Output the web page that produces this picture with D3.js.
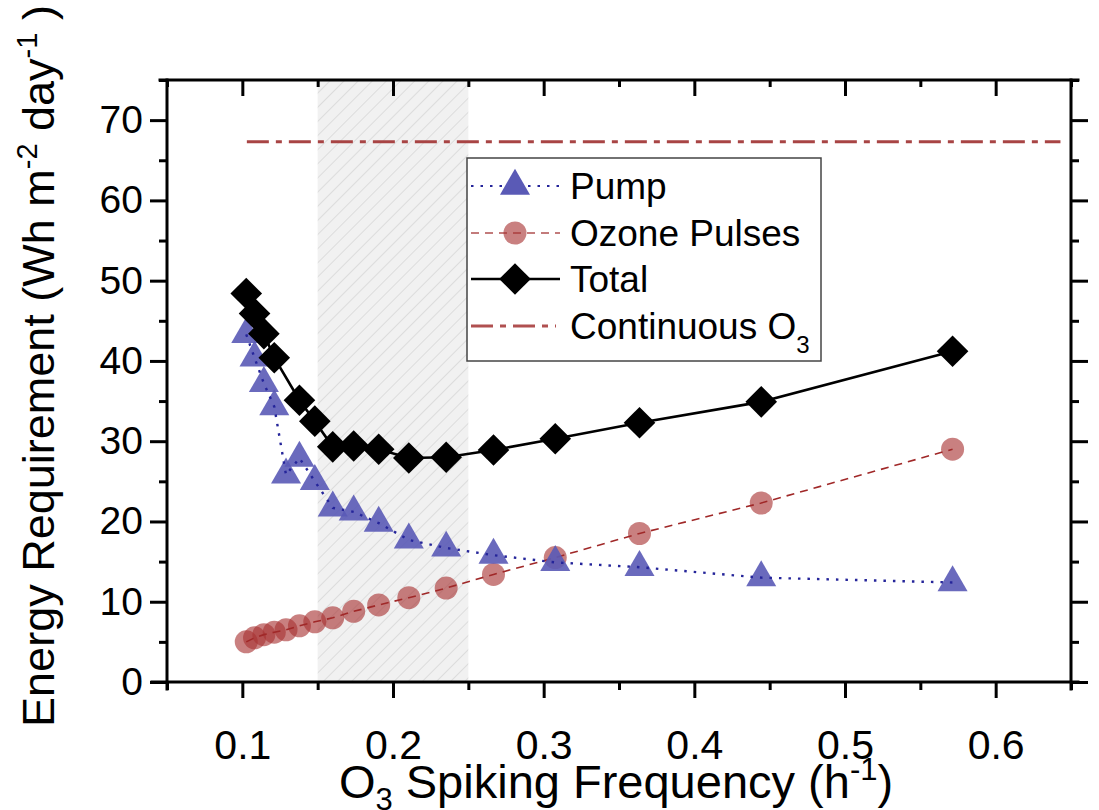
<!DOCTYPE html>
<html lang="en">
<head>
<meta charset="utf-8">
<title>Energy requirement vs O3 spiking frequency</title>
<script src="https://d3js.org/d3.v7.min.js"></script>
<style>
  body { margin: 0; background: #fff; }
  svg { display: block; font-family: "Liberation Sans", Arial, sans-serif; }
  .tick line { stroke: #000; stroke-width: 3px; }
  .tick text { fill: #000; font-size: 39px; }
</style>
</head>
<body>
<svg width="1099" height="810"></svg>
<script>
// data
var freq  = [0.1026, 0.1081, 0.1143, 0.1212, 0.129, 0.1379, 0.1481, 0.16, 0.1739, 0.1905, 0.2105, 0.2353, 0.2667, 0.3077, 0.3636, 0.4444, 0.5714];
var pump  = [43.3, 40.4, 37.2, 34.3, 25.8, 27.9, 25.0, 21.7, 21.2, 19.8, 17.7, 16.7, 15.8, 14.9, 14.3, 13.0, 12.4];
var ozone = [5.0, 5.5, 5.9, 6.2, 6.5, 7.0, 7.5, 8.0, 8.8, 9.6, 10.5, 11.7, 13.4, 15.5, 18.5, 22.3, 29.0];
var total = [48.4, 45.9, 43.4, 40.4, null, 35.1, 32.5, 29.3, 29.4, 29.0, 27.9, 28.0, 28.9, 30.3, 32.3, 34.9, 41.2];
var contFreq = [0.103, 0.643];
var contValue = 67.3;
var band = [0.15, 0.25];

var xMajor = [0.1, 0.2, 0.3, 0.4, 0.5, 0.6];
var xMinor = [0.05, 0.15, 0.25, 0.35, 0.45, 0.55, 0.65];
var yMajor = [0, 10, 20, 30, 40, 50, 60, 70];
var yMinor = [5, 15, 25, 35, 45, 55, 65, 75];

var svg = d3.select("svg");
var pl = 167, pr = 1071, pt = 80, pb = 682;

var x = d3.scaleLinear().domain([0.05, 0.65]).range([pl, pr]);
var y = d3.scaleLinear().domain([0, 75]).range([pb, pt]);

// hatched highlight band
var defs = svg.append("defs");
var pat = defs.append("pattern")
  .attr("id", "hatch")
  .attr("patternUnits", "userSpaceOnUse")
  .attr("width", 10).attr("height", 10)
  .attr("patternTransform", "rotate(45)");
pat.append("rect").attr("width", 10).attr("height", 10).attr("fill", "#f1f1f1");
pat.append("line").attr("x1", 0).attr("y1", 0).attr("x2", 0).attr("y2", 10)
  .attr("stroke", "#cfcfcf").attr("stroke-width", 1.2);

svg.append("rect")
  .attr("x", x(band[0])).attr("y", pt)
  .attr("width", x(band[1]) - x(band[0]))
  .attr("height", pb - pt)
  .attr("fill", "url(#hatch)");

var rows = freq.map(function(f, i) {
  return { f: f, pump: pump[i], ozone: ozone[i], total: total[i] };
});

// ozone pulses
var plot = svg.append("g");
plot.selectAll(".oz").data(rows).enter().append("circle")
  .attr("cx", function(d) { return x(d.f); })
  .attr("cy", function(d) { return y(d.ozone); })
  .attr("r", 11.5)
  .attr("fill", "#a83232")
  .attr("fill-opacity", 0.62);
plot.append("path")
  .datum(rows)
  .attr("fill", "none")
  .attr("stroke", "#a02828")
  .attr("stroke-width", 1.6)
  .attr("stroke-dasharray", "8,6")
  .attr("d", d3.line().x(function(d) { return x(d.f); }).y(function(d) { return y(d.ozone); }));

// pump
var tri = d3.symbol().type(d3.symbolTriangle).size(390);
plot.selectAll(".pu").data(rows).enter().append("path")
  .attr("d", tri)
  .attr("transform", function(d) { return "translate(" + x(d.f) + "," + y(d.pump) + ")"; })
  .attr("fill", "#5a5ab6")
  .attr("fill-opacity", 0.9);
plot.append("path")
  .datum(rows)
  .attr("fill", "none")
  .attr("stroke", "#25259a")
  .attr("stroke-width", 2.4)
  .attr("stroke-dasharray", "2.5,7")
  .attr("d", d3.line().x(function(d) { return x(d.f); }).y(function(d) { return y(d.pump); }));

// total
var totRows = rows.filter(function(d) { return d.total != null; });
plot.append("path")
  .datum(totRows)
  .attr("fill", "none")
  .attr("stroke", "#000")
  .attr("stroke-width", 2.6)
  .attr("d", d3.line().x(function(d) { return x(d.f); }).y(function(d) { return y(d.total); }));
var sq = d3.symbol().type(d3.symbolSquare).size(500);
plot.selectAll(".to").data(totRows).enter().append("path")
  .attr("d", sq)
  .attr("transform", function(d) { return "translate(" + x(d.f) + "," + y(d.total) + ") rotate(45)"; })
  .attr("fill", "#000");

// continuous O3
plot.append("line")
  .attr("x1", x(contFreq[0])).attr("x2", x(contFreq[1]))
  .attr("y1", y(contValue)).attr("y2", y(contValue))
  .attr("stroke", "#a84444")
  .attr("stroke-width", 3)
  .attr("stroke-dasharray", "22,7,6,7");

// axes (ticks only) + frame
function clean(g) { g.select(".domain").remove(); }
svg.append("g").attr("transform", "translate(0," + pb + ")")
  .call(d3.axisBottom(x).tickValues(xMajor).tickSize(16).tickPadding(32).tickFormat(d3.format(".1f"))).call(clean)
  .selectAll("text").style("font-size", "41px");
svg.append("g").attr("transform", "translate(0," + pb + ")")
  .call(d3.axisBottom(x).tickValues(xMinor).tickSize(8).tickFormat("")).call(clean);
svg.append("g").attr("transform", "translate(0," + pt + ")")
  .call(d3.axisBottom(x).tickValues(xMajor).tickSize(16).tickFormat("")).call(clean);
svg.append("g").attr("transform", "translate(0," + pt + ")")
  .call(d3.axisBottom(x).tickValues(xMinor).tickSize(7).tickFormat("")).call(clean);
svg.append("g").attr("transform", "translate(" + pl + ",0)")
  .call(d3.axisLeft(y).tickValues(yMajor).tickSize(17).tickPadding(7)).call(clean);
svg.append("g").attr("transform", "translate(" + pl + ",0)")
  .call(d3.axisLeft(y).tickValues(yMinor).tickSize(8).tickFormat("")).call(clean);
svg.append("g").attr("transform", "translate(" + pr + ",0)")
  .call(d3.axisRight(y).tickValues(yMajor).tickSize(17).tickFormat("")).call(clean);
svg.append("g").attr("transform", "translate(" + pr + ",0)")
  .call(d3.axisRight(y).tickValues(yMinor).tickSize(8).tickFormat("")).call(clean);
svg.selectAll(".tick text").attr("font-family", null).attr("font-size", null);

var frame = svg.append("g").attr("stroke", "#000").attr("stroke-width", 3).attr("stroke-linecap", "square");
frame.append("line").attr("x1", 152).attr("x2", 1078).attr("y1", pb).attr("y2", pb);
frame.append("line").attr("x1", 160).attr("x2", 1078).attr("y1", pt).attr("y2", pt);
frame.append("line").attr("x1", pl).attr("x2", pl).attr("y1", pt).attr("y2", 689);
frame.append("line").attr("x1", pr).attr("x2", pr).attr("y1", pt).attr("y2", 689);

// legend
var lg = svg.append("g");
lg.append("rect").attr("x", 467).attr("y", 158).attr("width", 354).attr("height", 203)
  .attr("fill", "#fff").attr("stroke", "#444").attr("stroke-width", 1.5);
var ly = [186, 233, 279, 326];
lg.append("line").attr("x1", 471).attr("x2", 560).attr("y1", ly[0]).attr("y2", ly[0])
  .attr("stroke", "#25259a").attr("stroke-width", 2.2).attr("stroke-dasharray", "2.5,7");
lg.append("path").attr("d", tri).attr("transform", "translate(515," + ly[0] + ")").attr("fill", "#5a5ab6");
lg.append("line").attr("x1", 471).attr("x2", 560).attr("y1", ly[1]).attr("y2", ly[1])
  .attr("stroke", "#b05050").attr("stroke-width", 1.6).attr("stroke-dasharray", "8,6");
lg.append("circle").attr("cx", 515).attr("cy", ly[1]).attr("r", 11.5).attr("fill", "#a83232").attr("fill-opacity", 0.62);
lg.append("line").attr("x1", 471).attr("x2", 560).attr("y1", ly[2]).attr("y2", ly[2])
  .attr("stroke", "#000").attr("stroke-width", 2.6);
lg.append("path").attr("d", sq).attr("transform", "translate(515," + ly[2] + ") rotate(45)").attr("fill", "#000");
lg.append("line").attr("x1", 471).attr("x2", 556).attr("y1", ly[3]).attr("y2", ly[3])
  .attr("stroke", "#b05050").attr("stroke-width", 3).attr("stroke-dasharray", "22,7,6,7");

var labels = ["Pump", "Ozone Pulses", "Total", "Continuous O"];
labels.forEach(function(t, i) {
  var tx = lg.append("text").attr("x", 570).attr("y", ly[i]).attr("dy", "0.36em")
    .attr("font-size", 37).text(t);
  if (i === 3) tx.append("tspan").attr("font-size", 24).attr("dy", "0.55em").text("3");
});

// axis titles
var xt = svg.append("text").attr("x", 616).attr("y", 798).attr("text-anchor", "middle").attr("font-size", 47);
xt.append("tspan").text("O");
xt.append("tspan").attr("font-size", 31).attr("dy", 12).text("3");
xt.append("tspan").attr("dy", -12).text(" Spiking Frequency (h");
xt.append("tspan").attr("font-size", 31).attr("dy", -18).text("-1");
xt.append("tspan").attr("dy", 18).text(")");

var yt = svg.append("text").attr("transform", "translate(54,366) rotate(-90)")
  .attr("text-anchor", "middle").attr("font-size", 45);
yt.append("tspan").text("Energy Requirement (Wh m");
yt.append("tspan").attr("font-size", 29).attr("dy", -17).text("-2");
yt.append("tspan").attr("dy", 17).text(" day");
yt.append("tspan").attr("font-size", 29).attr("dy", -17).text("-1");
yt.append("tspan").attr("dy", 17).text(" )");
</script>
</body>
</html>
